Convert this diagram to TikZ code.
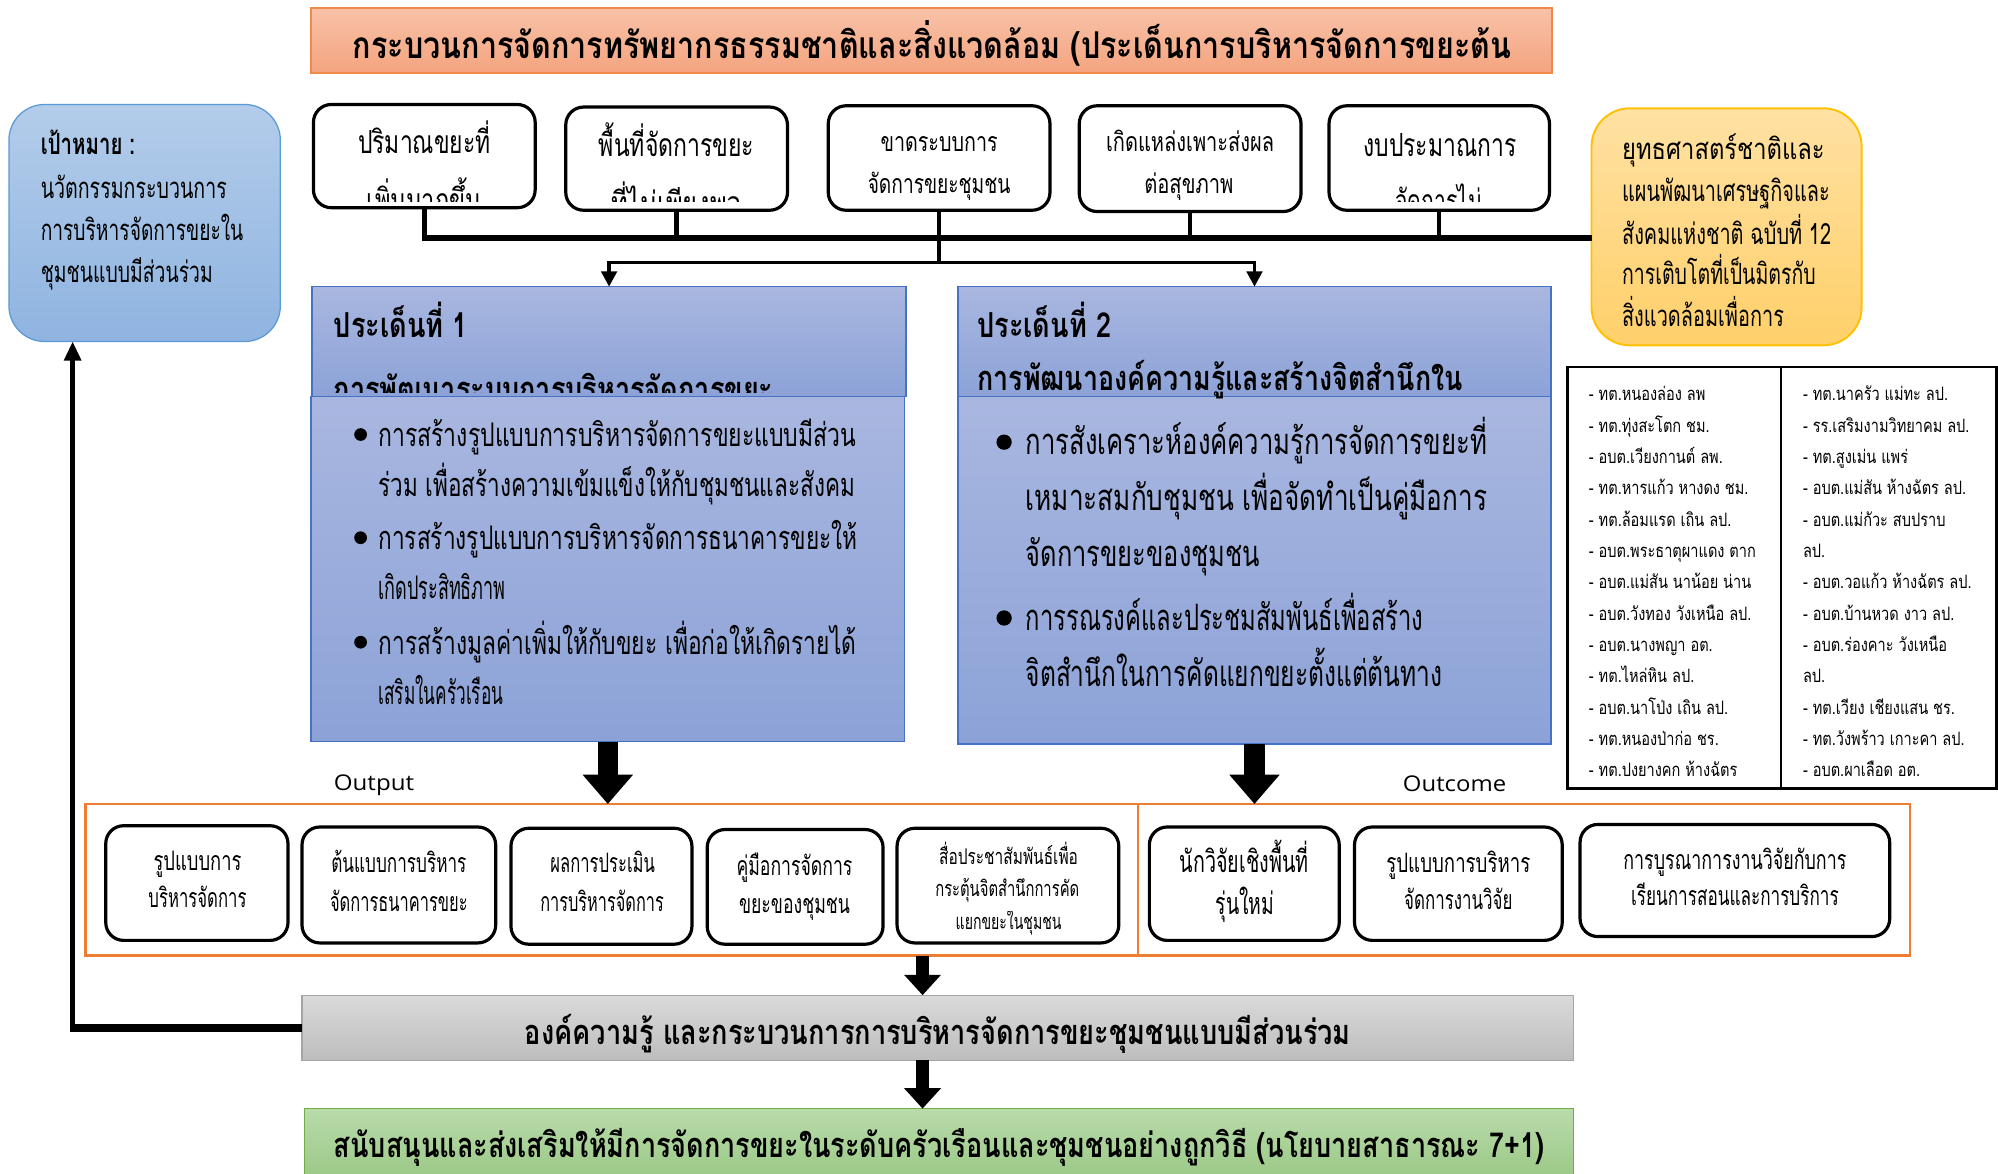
\documentclass[tikz,border=0pt]{standalone}
\usepackage{fontspec}
\usepackage{graphicx}
\usetikzlibrary{arrows.meta}
\newfontfamily\thai[Script=Thai]{Loma}
\newfontfamily\osans{Open Sans}
\newcommand\fs[1]{\fontsize{#1}{#1}\selectfont}
\newsavebox\fitbox
\newcommand\fitw[2]{\sbox\fitbox{#2}\pgfmathsetmacro\fitratio{#1/\the\wd\fitbox}\scalebox{\fitratio}[1]{\usebox\fitbox}}
\newcommand\tabw[1]{\scalebox{\tabr}[1]{#1}}
\definecolor{ttop}{HTML}{F8C2A8}\definecolor{tbot}{HTML}{F4A47F}\definecolor{tbrd}{HTML}{F08A4B}
\definecolor{gtop}{HTML}{B3CCEA}\definecolor{gbot}{HTML}{8FB4E0}\definecolor{gbrd}{HTML}{5B9BD5}
\definecolor{ytop}{HTML}{FFE1A3}\definecolor{ybot}{HTML}{FFD06A}\definecolor{ybrd}{HTML}{FFC000}
\definecolor{itop}{HTML}{A9B7E0}\definecolor{ibot}{HTML}{8CA2D7}\definecolor{ibrd}{HTML}{4472C4}
\definecolor{ktop}{HTML}{DADADA}\definecolor{kbot}{HTML}{BDBDBD}\definecolor{kbrd}{HTML}{A5A5A5}
\definecolor{ntop}{HTML}{BADBAB}\definecolor{nbot}{HTML}{9AC886}\definecolor{nbrd}{HTML}{70AD47}
\definecolor{obrd}{HTML}{ED7D31}
\begin{document}
\sbox\fitbox{\thai\fs{14.5}- อบต.พระธาตุผาแดง ตาก}\pgfmathsetmacro\tabr{131/\the\wd\fitbox}%
\begin{tikzpicture}[x=1pt,y=-1pt,
  box/.style={rectangle, inner sep=0pt, outer sep=0pt},
  pbox/.style={box, draw=black, line width=2.5pt, rounded corners=14pt, fill=white},
  ibox/.style={box, draw=ibrd, line width=1.2pt, top color=itop, bottom color=ibot},
  tx/.style={inner sep=0pt, outer sep=0pt, anchor=base},
  txl/.style={inner sep=0pt, outer sep=0pt, anchor=base west},
  stub/.style={line width=3.5pt},
  bus/.style={line width=5pt},
  blk/.style={line width=16pt, -{Triangle[width=38pt,length=23pt]}},
  blks/.style={line width=10pt, -{Triangle[width=28pt,length=16pt]}},
  thinarr/.style={line width=3pt, -{Triangle[width=12pt,length=12pt]}},
  fbarr/.style={line width=3.5pt, -{Triangle[width=13pt,length=15pt]}}
]
\useasboundingbox (0,0) rectangle (1568,921);

% ---------- title
\node[box, draw=tbrd, line width=1.5pt, top color=ttop, bottom color=tbot, minimum width=974pt, minimum height=51pt] (title) at (731,31.5) {};
\node[tx, font={\thai\bfseries\fs{29}}] (titletx) at (731.5,46) {\fitw{909}{กระบวนการจัดการทรัพยากรธรรมชาติและสิ่งแวดล้อม (ประเด็นการบริหารจัดการขยะต้น}};

% ---------- goal box
\node[box, draw=gbrd, line width=1pt, rounded corners=28pt, top color=gtop, bottom color=gbot, minimum width=213pt, minimum height=186pt] (goal) at (113.5,175) {};
\node[txl, font={\thai\bfseries\fs{23}}] (g1) at (32,121.5) {\fitw{74}{เป้าหมาย :}};
\node[txl, font={\thai\fs{23}}] (g2) at (32,155.5) {\fitw{146}{นวัตกรรมกระบวนการ}};
\node[txl, font={\thai\fs{23}}] (g3) at (32,188.5) {\fitw{159}{การบริหารจัดการขยะใน}};
\node[txl, font={\thai\fs{23}}] (g4) at (32,221.5) {\fitw{135}{ชุมชนแบบมีส่วนร่วม}};

% ---------- strategy box
\node[box, draw=ybrd, line width=1.5pt, rounded corners=30pt, top color=ytop, bottom color=ybot, minimum width=212pt, minimum height=186pt] (strat) at (1355,178) {};
\node[txl, font={\thai\fs{23}}] (y1) at (1273,125.5) {\fitw{159}{ยุทธศาสตร์ชาติและ}};
\node[txl, font={\thai\fs{23}}] (y2) at (1273,158.5) {\fitw{163}{แผนพัฒนาเศรษฐกิจและ}};
\node[txl, font={\thai\fs{23}}] (y3) at (1273,191.5) {\fitw{164}{สังคมแห่งชาติ ฉบับที่ 12}};
\node[txl, font={\thai\fs{23}}] (y4) at (1273,223.5) {\fitw{152}{การเติบโตที่เป็นมิตรกับ}};
\node[txl, font={\thai\fs{23}}] (y5) at (1273,256.5) {\fitw{127}{สิ่งแวดล้อมเพื่อการ}};

% ---------- problem boxes
\node[pbox, minimum width=174pt, minimum height=81pt] (p1) at (333,122.5) {};
\node[pbox, minimum width=174pt, minimum height=81pt] (p2) at (531,124.5) {};
\node[pbox, minimum width=174pt, minimum height=82pt] (p3) at (737,124) {};
\node[pbox, minimum width=174pt, minimum height=83pt] (p4) at (934,124.5) {};
\node[pbox, minimum width=173pt, minimum height=82pt] (p5) at (1129.5,124) {};
\node[tx, font={\thai\fs{25}}] (p1a) at (333,120.5) {\fitw{104}{ปริมาณขยะที่}};
\node[tx, font={\thai\fs{25}}] (p2a) at (531,122.5) {\fitw{122}{พื้นที่จัดการขยะ}};
\node[tx, font={\thai\fs{21}}] (p3a) at (737,119) {\fitw{92}{ขาดระบบการ}};
\node[tx, font={\thai\fs{21}}] (p3b) at (737,152) {\fitw{112}{จัดการขยะชุมชน}};
\node[tx, font={\thai\fs{21}}] (p4a) at (934,119) {\fitw{132}{เกิดแหล่งเพาะส่งผล}};
\node[tx, font={\thai\fs{21}}] (p4b) at (933,152) {\fitw{70}{ต่อสุขภาพ}};
\node[tx, font={\thai\fs{25}}] (p5a) at (1130,122.5) {\fitw{120}{งบประมาณการ}};
\begin{scope}
\clip (246,90) rectangle (1216,158);
\node[tx, font={\thai\fs{25}}] (p1b) at (333,166) {\fitw{90}{เพิ่มมากขึ้น}};
\node[tx, font={\thai\fs{25}}] (p2b) at (531,168) {\fitw{103}{ที่ไม่เพียงพอ}};
\node[tx, font={\thai\fs{25}}] (p5b) at (1129,167) {\fitw{68}{จัดการไม่}};
\end{scope}

% ---------- bus connectors
\coordinate (busy) at (0,187);
\coordinate (jn) at (0,206);
\foreach \p in {p1,p2,p3,p4,p5} \draw[stub] (\p.south) -- (\p.south |- busy);
\draw[bus] ([xshift=-1.75pt]p1.south |- busy) -- (strat.west |- busy);
\draw[stub] (p3.south |- busy) -- (p3.south |- jn);

% ---------- issue boxes
\node[ibox, minimum width=466pt, minimum height=271pt] (iss1b) at (477,446.5) {};
\node[ibox, minimum width=466pt, minimum height=86pt] (iss1h) at (478,268) {};
\node[ibox, minimum width=465pt, minimum height=273pt] (iss2b) at (984.5,447.5) {};
\node[ibox, minimum width=465pt, minimum height=86pt] (iss2h) at (984.5,268) {};

\draw[thinarr] (p3.south |- jn) -| (iss1h.north);
\draw[thinarr] (p3.south |- jn) -| (iss2h.north);

\node[txl, font={\thai\bfseries\fs{27}}] (i1t) at (262,265) {\fitw{105}{ประเด็นที่ 1}};
\begin{scope}
\clip (246,280) rectangle (710,308);
\node[txl, font={\thai\bfseries\fs{27}}] (i1s) at (262,315) {\fitw{345}{การพัฒนาระบบการบริหารจัดการขยะ}};
\end{scope}
\node[txl, font={\thai\bfseries\fs{27}}] (i2t) at (767,265) {\fitw{105}{ประเด็นที่ 2}};
\node[txl, font={\thai\bfseries\fs{27}}] (i2s) at (767,306.5) {\fitw{381}{การพัฒนาองค์ความรู้และสร้างจิตสำนึกใน}};

\foreach \yy in {341,422,504} \fill (283,\yy) circle (5pt);
\node[txl, font={\thai\fs{25.5}}] (b11) at (297,350.5) {\fitw{375}{การสร้างรูปแบบการบริหารจัดการขยะแบบมีส่วน}};
\node[txl, font={\thai\fs{25.5}}] (b12) at (297,389.5) {\fitw{374}{ร่วม เพื่อสร้างความเข้มแข็งให้กับชุมชนและสังคม}};
\node[txl, font={\thai\fs{25.5}}] (b13) at (297,431.5) {\fitw{376}{การสร้างรูปแบบการบริหารจัดการธนาคารขยะให้}};
\node[txl, font={\thai\fs{25.5}}] (b14) at (297,470.5) {\fitw{100}{เกิดประสิทธิภาพ}};
\node[txl, font={\thai\fs{25.5}}] (b15) at (297,513.5) {\fitw{375}{การสร้างมูลค่าเพิ่มให้กับขยะ เพื่อก่อให้เกิดรายได้}};
\node[txl, font={\thai\fs{25.5}}] (b16) at (297,552.5) {\fitw{98}{เสริมในครัวเรือน}};

\foreach \yy in {347,485} \fill (788,\yy) circle (6pt);
\node[txl, font={\thai\fs{28.5}}] (b21) at (805,356.5) {\fitw{362}{การสังเคราะห์องค์ความรู้การจัดการขยะที่}};
\node[txl, font={\thai\fs{28.5}}] (b22) at (805,400.5) {\fitw{362}{เหมาะสมกับชุมชน เพื่อจัดทำเป็นคู่มือการ}};
\node[txl, font={\thai\fs{28.5}}] (b23) at (805,444.5) {\fitw{184}{จัดการขยะของชุมชน}};
\node[txl, font={\thai\fs{28.5}}] (b24) at (805,494.5) {\fitw{312}{การรณรงค์และประชมสัมพันธ์เพื่อสร้าง}};
\node[txl, font={\thai\fs{28.5}}] (b25) at (805,538.5) {\fitw{327}{จิตสำนึกในการคัดแยกขยะตั้งแต่ต้นทาง}};

% ---------- table
\node[box, draw=black, line width=2pt, fill=white, minimum width=337pt, minimum height=331pt] (tab) at (1398.5,453.5) {};
\draw[line width=1.5pt] (1398,288) -- (1398,619);
\foreach \t [count=\i from 0] in {ทต.หนองล่อง ลพ, ทต.ทุ่งสะโตก ชม., อบต.เวียงกานต์ ลพ., ทต.หารแก้ว หางดง ชม., ทต.ล้อมแรด เถิน ลป., อบต.พระธาตุผาแดง ตาก, อบต.แม่สัน นาน้อย น่าน, อบต.วังทอง วังเหนือ ลป., อบต.นางพญา อต., ทต.ไหล่หิน ลป., อบต.นาโป่ง เถิน ลป., ทต.หนองป่าก่อ ชร., ทต.ปงยางคก ห้างฉัตร}
  \node[txl, font={\thai\fs{14.5}}] (tl\i) at (1247,{314.5+24.6*\i}) {\tabw{- \t}};
\foreach \t [count=\i from 0] in {- ทต.นาครัว แม่ทะ ลป., - รร.เสริมงามวิทยาคม ลป., - ทต.สูงเม่น แพร่, - อบต.แม่สัน ห้างฉัตร ลป., - อบต.แม่กัวะ สบปราบ, ลป., - อบต.วอแก้ว ห้างฉัตร ลป., - อบต.บ้านหวด งาว ลป., - อบต.ร่องคาะ วังเหนือ, ลป., - ทต.เวียง เชียงแสน ชร., - ทต.วังพร้าว เกาะคา ลป., - อบต.ผาเลือด อต.}
  \node[txl, font={\thai\fs{14.5}}] (tr\i) at (1415,{314.5+24.6*\i}) {\tabw{\t}};

% ---------- outputs / outcomes
\node[box, draw=obrd, line width=2pt, fill=white, minimum width=1432pt, minimum height=119pt] (outc) at (783,690.5) {};
\draw[draw=obrd, line width=2pt] (893,631) -- (893,750);
\node[txl, font={\osans\fs{17}}] (outlbl) at (262,620) {\fitw{63}{Output}};
\node[txl, font={\osans\fs{17}}] (outclbl) at (1101,621) {\fitw{81}{Outcome}};

\draw[blk] (iss1b.south) -- (iss1b.south |- outc.north);
\draw[blk] (iss2b.south) -- (iss2b.south |- outc.north);

\node[pbox, minimum width=143pt, minimum height=90pt] (o1) at (154.5,693) {};
\node[pbox, minimum width=152pt, minimum height=91pt] (o2) at (313,694.5) {};
\node[pbox, minimum width=142pt, minimum height=91pt] (o3) at (472,695.5) {};
\node[pbox, minimum width=138pt, minimum height=90pt] (o4) at (624,696) {};
\node[pbox, minimum width=174pt, minimum height=90pt] (o5) at (791,695) {};
\node[pbox, minimum width=149pt, minimum height=89pt] (c1) at (976.5,693.5) {};
\node[pbox, minimum width=163pt, minimum height=89pt] (c2) at (1144.5,693.5) {};
\node[pbox, minimum width=243pt, minimum height=88pt] (c3) at (1361.5,691) {};

\node[tx, font={\thai\fs{21}}] (o1a) at (155,683) {\fitw{69}{รูปแบบการ}};
\node[tx, font={\thai\fs{21}}] (o1b) at (155,712) {\fitw{77}{บริหารจัดการ}};
\node[tx, font={\thai\fs{21}}] (o2a) at (313,685) {\fitw{106}{ต้นแบบการบริหาร}};
\node[tx, font={\thai\fs{21}}] (o2b) at (313,715) {\fitw{108}{จัดการธนาคารขยะ}};
\node[tx, font={\thai\fs{21}}] (o3a) at (473,685) {\fitw{82}{ผลการประเมิน}};
\node[tx, font={\thai\fs{21}}] (o3b) at (472.5,715) {\fitw{97}{การบริหารจัดการ}};
\node[tx, font={\thai\fs{21}}] (o4a) at (623.5,687) {\fitw{91}{คู่มือการจัดการ}};
\node[tx, font={\thai\fs{21}}] (o4b) at (623.5,717) {\fitw{87}{ขยะของชุมชน}};
\node[tx, font={\thai\fs{17}}] (o5a) at (791.5,678.5) {\fitw{109}{สื่อประชาสัมพันธ์เพื่อ}};
\node[tx, font={\thai\fs{17}}] (o5b) at (790.5,703.5) {\fitw{113}{กระตุ้นจิตสำนึกการคัด}};
\begin{scope}
\clip (710,715) rectangle (870,733);
\node[tx, font={\thai\fs{17}}] (o5c) at (791.5,729.5) {\fitw{83}{แยกขยะในชุมชน}};
\end{scope}
\node[tx, font={\thai\fs{24}}] (c1a) at (976.5,685) {\fitw{101}{นักวิจัยเชิงพื้นที่}};
\node[tx, font={\thai\fs{24}}] (c1b) at (977,718) {\fitw{46}{รุ่นใหม่}};
\node[tx, font={\thai\fs{21}}] (c2a) at (1144.5,685) {\fitw{113}{รูปแบบการบริหาร}};
\node[tx, font={\thai\fs{21}}] (c2b) at (1144.5,714) {\fitw{85}{จัดการงานวิจัย}};
\node[tx, font={\thai\fs{21}}] (c3a) at (1361.5,682) {\fitw{175}{การบูรณาการงานวิจัยกับการ}};
\node[tx, font={\thai\fs{21}}] (c3b) at (1361.5,711) {\fitw{163}{เรียนการสอนและการบริการ}};

% ---------- knowledge and policy
\coordinate (ax) at (724,0);
\coordinate (fbx) at (57,0);
\node[box, draw=kbrd, line width=1pt, top color=ktop, bottom color=kbot, minimum width=998pt, minimum height=51pt] (know) at (736,806.5) {};
\node[tx, font={\thai\bfseries\fs{27}}] (knowtx) at (736,819.5) {\fitw{648}{องค์ความรู้ และกระบวนการการบริหารจัดการขยะชุมชนแบบมีส่วนร่วม}};
\node[box, draw=nbrd, line width=1.2pt, top color=ntop, bottom color=nbot, minimum width=996pt, minimum height=55pt] (pol) at (737,897.5) {};
\node[tx, font={\thai\bfseries\fs{27}}] (poltx) at (737,908.5) {\fitw{950}{สนับสนุนและส่งเสริมให้มีการจัดการขยะในระดับครัวเรือนและชุมชนอย่างถูกวิธี (นโยบายสาธารณะ 7+1)}};

\draw[blks] (outc.south -| ax) -- (know.north -| ax);
\draw[blks] (know.south -| ax) -- (pol.north -| ax);
\draw[line width=6pt] (know.west) -- ([xshift=-1.75pt]know.west -| fbx);
\draw[fbarr] (know.west -| fbx) -- (goal.south -| fbx);
\end{tikzpicture}
\end{document}
